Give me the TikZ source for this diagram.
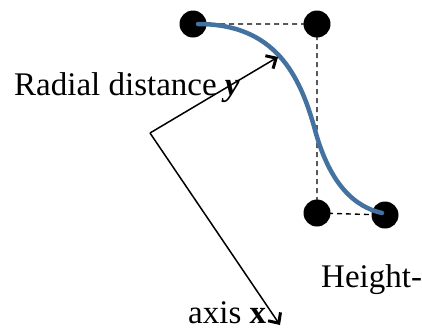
\documentclass[tikz,border=0pt]{standalone}
\usepackage{fontspec}
\setmainfont{Liberation Serif}
\usetikzlibrary{arrows.meta}
\definecolor{curveblue}{RGB}{68,114,160}
\begin{document}
\begin{tikzpicture}[x=1pt,y=-1pt,
  dot/.style={circle,fill=black,inner sep=0pt,minimum size=27pt},
  dashline/.style={line width=1.4pt,dash pattern=on 5pt off 4pt},
  axisline/.style={line width=1.5pt,-{Straight Barb[length=8pt,width=15pt,line width=3pt]}},
  lbl/.style={font=\fontsize{33}{39}\selectfont,inner sep=0pt,anchor=base west}]
\useasboundingbox (0,0) rectangle (422,330);
\node[dot] (d1) at (193,24) {};
\node[dot] (d2) at (317,24) {};
\node[dot] (d3) at (317,213) {};
\node[dot] (d4) at (385,215) {};
\draw[dashline] (d1.center) -- (d2.center) -- (d3.center) -- (d4.center);
\draw[curveblue,line width=4.5pt,line cap=round] (198,24) .. controls (275,24) and (300,75) .. (315,130) .. controls (330,185) and (355,207) .. (382,213);
\coordinate (o) at (150,133);
\coordinate (ytip) at (278,57);
\coordinate (xtip) at (280,325);
\node[lbl] (rl) at (14,95) {Radial distance \textbf{\textit{y}}};
\node[lbl] (hl) at (321,287) {Height-};
\node[lbl] (al) at (188,323) {axis \textbf{x}};
\draw[axisline] (o) -- (ytip);
\draw[axisline] (o) -- (xtip);
\end{tikzpicture}
\end{document}
